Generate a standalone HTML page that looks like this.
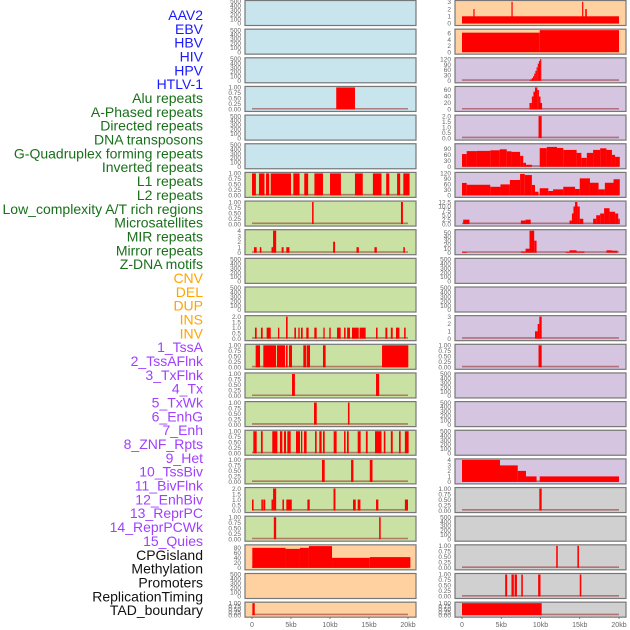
<!DOCTYPE html>
<html><head><meta charset="utf-8"><style>
html,body{margin:0;padding:0;background:#fff;width:630px;height:630px;overflow:hidden}
svg{display:block;font-family:"Liberation Sans",sans-serif}
</style></head><body>
<svg id="chart" width="630" height="630" viewBox="0 0 630 630"></svg>
<script>
const trackNames = ["AAV2","EBV","HBV","HIV","HPV","HTLV-1","Alu repeats","A-Phased repeats","Directed repeats","DNA transposons","G-Quadruplex forming repeats","Inverted repeats","L1 repeats","L2 repeats","Low_complexity A/T rich regions","Microsatellites","MIR repeats","Mirror repeats","Z-DNA motifs","CNV","DEL","DUP","INS","INV","1_TssA","2_TssAFlnk","3_TxFlnk","4_Tx","5_TxWk","6_EnhG","7_Enh","8_ZNF_Rpts","9_Het","10_TssBiv","11_BivFlnk","12_EnhBiv","13_ReprPC","14_ReprPCWk","15_Quies","CPGisland","Methylation","Promoters","ReplicationTiming","TAD_boundary"];
const nameGroups = [6,13,5,15,5];
const groupColors = ["#1a1aff","#19701a","#ffa500","#a040ff","#111111"];
const xTickValues = [0,5,10,15,20];
const xTickLabels = ["0","5kb","10kb","15kb","20kb"];

const tEmpty = ["0","100","200","300","400","500"];
const tBin = ["0.00","0.25","0.50","0.75","1.00"];
const tTwo = ["0.0","0.5","1.0","1.5","2.0"];

const ebvSegs = [[0,20,1],[1.45,1.6,2],[6.3,6.4,3],[15.3,15.4,3],[15.7,15.9,2]];
const hivSegs = [[0,9.9,6.2],[9.9,20,7.0]];
const htlvSegs = [[8.6,8.75,3],[8.75,8.9,8],[8.9,9.05,15],[9.05,9.2,25],[9.2,9.35,40],[9.35,9.5,55],[9.5,9.65,75],[9.65,9.8,95],[9.8,9.95,110],[9.95,10.1,120]];
const aluSegs = [[10.8,13.2,1]];
const aphSegs = [[8.6,8.9,20],[8.9,9.1,40],[9.1,9.3,55],[9.3,9.6,68],[9.6,9.8,60],[9.8,10.0,40],[10.0,10.2,20]];
const dnaSegs = [[9.75,10.15,2]];
const invrSegs = [[0,0.6,64],[0.6,1.9,79],[1.9,3.6,80],[3.6,4.8,83],[4.8,5.7,88],[5.7,6.3,78],[6.3,7.4,75],[7.4,7.8,55],[7.8,8.15,20],[8.15,8.9,10],[9.9,10.8,94],[10.8,12.1,100],[12.1,12.9,95],[12.9,14.6,85],[14.6,15.2,70],[15.2,15.9,45],[15.9,16.7,70],[16.7,17.6,85],[17.6,18.4,93],[18.4,19.1,85],[19.1,19.5,60],[19.5,20.1,50]];
const l1Segs = [[0,0.5,1],[0.9,1.6,1],[1.8,2.2,1],[2.4,5,1],[5.3,6.1,1],[6.7,7.2,1],[8,9.1,1],[10,11.4,1],[13.2,14.2,1],[15.5,16.6,1],[17.2,17.6,1],[18.6,19,1],[19.4,20.2,1]];
const l2Segs = [[0,0.6,68],[0.6,3.6,58],[3.6,4.9,47],[4.9,6.1,60],[6.1,7.4,84],[7.4,8.0,117],[8.0,8.9,111],[8.9,9.3,57],[9.3,9.75,20],[9.9,11.0,39],[11.0,11.6,24],[11.6,12.9,33],[12.9,14.4,47],[14.4,15.0,35],[15.0,16.3,93],[16.3,17.4,69],[17.4,18.2,33],[18.2,19.3,69],[19.3,20.1,88]];
const lowSegs = [[7.7,7.9,1],[19.1,19.35,1]];
const microSegs = [[0.15,0.95,2.5],[7.5,8.1,2],[8.1,8.75,2.5],[13.7,14.0,2],[14.0,14.2,6],[14.2,14.4,10],[14.4,14.7,12.5],[14.7,15.0,10],[15.0,15.45,3],[16.7,17.1,3],[17.1,17.6,5],[17.6,18.1,6],[18.1,18.8,9],[18.8,19.5,7],[19.5,19.9,6],[19.9,20.1,3]];
const mirSegs = [[0.25,0.6,1],[1.0,1.2,1],[2.5,2.7,1],[2.7,3.1,4],[3.8,4.05,1],[4.4,4.8,1],[10.4,10.65,2],[13.4,13.7,1],[15.7,16.0,1],[19.4,19.6,1]];
const mirrorSegs = [[0,0.6,2],[7.5,8.1,3],[8.1,8.6,10],[8.6,9.2,55],[9.2,9.5,30],[13.2,13.7,2],[13.7,14.6,6],[14.6,15.6,3],[18.4,19.1,6],[19.1,19.8,5]];
const insSegs = [[0.38,0.6,1],[1.15,1.37,1],[1.88,2.4,1],[3.33,3.5,1],[4.36,4.57,2],[5.43,5.64,1],[5.94,6.11,1],[6.28,6.5,1],[6.96,7.26,1],[7.99,8.29,1],[9.15,9.32,1],[9.91,10.09,1],[10.9,11.37,1],[11.8,12.0,1],[12.2,12.56,1],[12.82,13.68,1],[13.8,14.57,1],[15.9,16.1,1],[17.1,17.35,1],[17.8,18.04,1],[18.46,18.9,1],[19.5,19.7,1]];
const invSegs = [[9.3,9.64,1],[9.64,9.85,2],[9.85,10.15,3]];
const tssaSegs = [[0.47,1.03,1],[1.45,3.08,1],[3.2,4.23,1],[4.36,4.57,1],[4.74,5.13,1],[6.58,6.92,1],[7.0,7.44,1],[9.1,9.44,1],[16.67,20.04,1]];
const tssafSegs = [[9.75,10.15,1]];
const txfSegs = [[5.13,5.5,1],[15.9,16.3,1]];
const txwkSegs = [[7.95,8.3,1],[12.3,12.5,1]];
const enhSegs = [[0.17,0.6,1],[1.15,1.37,1],[2.6,3.25,1],[3.59,3.89,1],[4.1,4.36,1],[4.53,4.96,1],[5.64,6.15,1],[6.28,6.45,1],[6.67,7.0,1],[8.08,8.29,1],[8.63,8.93,1],[9.1,9.32,1],[10.47,10.85,1],[11.8,12.0,1],[12.18,12.4,1],[13.55,13.93,1],[14.6,14.83,1],[15.77,16.6,1],[16.9,17.1,1],[17.8,18.04,1],[18.85,19.06,1],[19.6,20.08,1]];
const hetSegs = [[8.97,9.32,1],[12.7,13.0,1],[15.1,15.45,1]];
const tssbivSegs = [[0,4.84,4],[4.84,7.1,3],[7.1,8.15,2],[8.15,9.5,1],[9.9,20,1]];
const bivfSegs = [[0,0.2,1],[1.2,1.4,1],[1.45,1.7,1],[2.5,2.7,1],[2.7,3.1,2],[3.9,4.1,1],[4.4,5.1,1],[7.1,7.4,1],[10.45,10.7,2],[12.95,13.3,1],[13.55,13.9,1],[15.9,16.2,1],[19.6,20.0,1]];
const enhbivSegs = [[9.85,10.15,1]];
const reprSegs = [[2.8,3.1,1],[16.3,16.5,1]];
const quiesSegs = [[0.04,4.3,80],[4.3,6.15,76],[6.15,7.3,80],[7.3,10.26,87],[10.26,15.1,40],[15.1,20.3,43]];
const cpgSegs = [[12.0,12.2,1],[14.7,14.9,1]];
const promSegs = [[5.5,5.75,1],[6.3,6.6,1],[6.7,7.0,1],[7.55,7.75,1],[9.7,10.0,1],[15.0,15.2,1]];
const tadlSegs = [[0.05,0.35,1]];
const tadrSegs = [[0,10.15,1]];

const BG = {b:"#c8e4ec",g:"#c9e1a3",o:"#ffd1a0",p:"#d5c5e1",y:"#d0d0d0"};
// [bg, tickLabels, ymax, segs, name] per row: left, right
const tracks = [
 [["b",tEmpty,500,null,"aav2"],["o",["0","1","2","3"],3.05,ebvSegs,"ebv"]],
 [["b",tEmpty,500,null,"hbv"],["o",["0","2","4","6"],7.0,hivSegs,"hiv"]],
 [["b",tEmpty,500,null,"hpv"],["p",["0","30","60","90","120"],122,htlvSegs,"htlv-1"]],
 [["b",tBin,1,aluSegs,"alu"],["p",["0","20","40","60"],68,aphSegs,"a-phased"]],
 [["b",tEmpty,500,null,"directed"],["p",tTwo,2,dnaSegs,"dna-transposons"]],
 [["b",tEmpty,500,null,"g-quadruplex"],["p",["0","30","60","90"],111,invrSegs,"inverted"]],
 [["g",tBin,1,l1Segs,"l1"],["p",["0","30","60","90","120"],120,l2Segs,"l2"]],
 [["g",tBin,1,lowSegs,"low-complexity"],["p",["0.0","2.5","5.0","7.5","10.0","12.5"],12.5,microSegs,"microsatellites"]],
 [["g",["0","1","2","3","4"],4,mirSegs,"mir"],["p",["0","10","20","30","40","50"],55,mirrorSegs,"mirror"]],
 [["g",tEmpty,500,null,"z-dna"],["p",tEmpty,500,null,"cnv"]],
 [["g",tEmpty,500,null,"del"],["p",tEmpty,500,null,"dup"]],
 [["g",tTwo,2,insSegs,"ins"],["p",["0","1","2","3"],3,invSegs,"inv"]],
 [["g",tBin,1,tssaSegs,"1-tssa"],["p",tBin,1,tssafSegs,"2-tssaflnk"]],
 [["g",tBin,1,txfSegs,"3-txflnk"],["p",tEmpty,500,null,"4-tx"]],
 [["g",tBin,1,txwkSegs,"5-txwk"],["p",tEmpty,500,null,"6-enhg"]],
 [["g",tBin,1,enhSegs,"7-enh"],["p",tEmpty,500,null,"8-znf-rpts"]],
 [["g",tBin,1,hetSegs,"9-het"],["p",["0","1","2","3","4"],4,tssbivSegs,"10-tssbiv"]],
 [["g",tTwo,2,bivfSegs,"11-bivflnk"],["y",tBin,1,enhbivSegs,"12-enhbiv"]],
 [["g",tBin,1,reprSegs,"13-reprpc"],["y",tEmpty,500,null,"14-reprpcwk"]],
 [["o",["0","20","40","60","80"],88,quiesSegs,"15-quies"],["y",tBin,1,cpgSegs,"cpgisland"]],
 [["o",tEmpty,500,null,"methylation"],["y",tBin,1,promSegs,"promoters"]],
 [["o",tBin,1,tadlSegs,"replication-timing"],["y",tBin,1,tadrSegs,"tad-boundary"]]
];

const NS="http://www.w3.org/2000/svg";
const svg=document.getElementById("chart");
function mk(tag,attrs,parent){const e=document.createElementNS(NS,tag);for(const k in attrs)e.setAttribute(k,attrs[k]);(parent||svg).appendChild(e);return e;}

// labels
let gi=0,cnt=0;
trackNames.forEach((n,i)=>{
  while(cnt>=nameGroups[gi]){cnt=0;gi++;}
  cnt++;
  const t=mk("text",{x:203,y:15+i*13.84+5,"text-anchor":"end","font-size":"14",fill:groupColors[gi]});
  
  
  t.textContent=n;
});

const cols=[{px:245,pw:171,x0:252,k:7.8,tx:241},{px:455,pw:171,x0:462,k:7.85,tx:451}];
function xs(c,kb){return cols[c].x0+kb*cols[c].k;}

tracks.forEach((row,r)=>{
  const T=r*28.65, H=(r===21?16:26);
  row.forEach((tr,c)=>{
    const [bg,ticks,ymax,segs,name]=tr;
    const g=mk("g",{});
    
    
    mk("rect",{x:cols[c].px,y:T+0.5,width:cols[c].pw,height:H-1,fill:BG[bg],stroke:"#777","stroke-width":1.2},g);
    const yb=T+H-2.5, yt=T+1.5;
    const ys=v=>yb-(v/ymax)*(yb-yt);
    const tmax=parseFloat(ticks[ticks.length-1]);
    const step=ticks.length>1?tmax/(ticks.length-1):1;
    ticks.forEach((lab,i)=>{
      const v=i*step;
      const tt=mk("text",{x:cols[c].tx,y:ys(v)+2.2,"text-anchor":"end","font-size":"6.5",fill:"#666"},g);
      
      
      tt.textContent=lab;
    });
    if(segs){
      const bl=mk("line",{x1:xs(c,0),x2:xs(c,20),y1:yb-0.7,y2:yb-0.7,stroke:"rgba(150,40,40,0.55)","stroke-width":1.6},g);
      
      
      segs.forEach(s=>{
        const x1=xs(c,s[0]),x2=xs(c,s[1]),y=ys(s[2]);
        const b=mk("rect",{x:x1,y:y,width:Math.max(1.2,x2-x1),height:yb-y,fill:"#ff0000"},g);
        
        
      });
    }
  });
});

// x axes
[0,1].forEach(c=>{
  xTickValues.forEach((v,i)=>{
    const x=xs(c,v);
    mk("line",{x1:x,x2:x,y1:617,y2:619,stroke:"#666","stroke-width":0.8});
    const t=mk("text",{x:x,y:627,"text-anchor":"middle","font-size":"7",fill:"#666"});
    
    
    t.textContent=xTickLabels[i];
  });
});
</script>
</body></html>
